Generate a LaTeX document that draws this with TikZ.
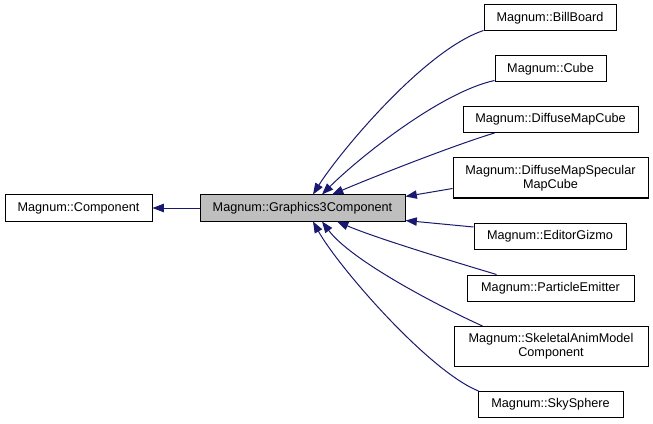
\documentclass[tikz,border=0pt]{standalone}
\usepackage{fontspec}
\setmainfont{Liberation Sans}
\usetikzlibrary{arrows.meta,calc}
\definecolor{navy}{HTML}{191970}
\definecolor{shade}{HTML}{BFBFBF}
\begin{document}
\begin{tikzpicture}[x=.75pt,y=-.75pt,
  box/.style={draw=black,line width=.75pt,inner sep=0pt,minimum width=#1*.75pt,minimum height=19.5pt,align=center,font=\fontsize{9.5}{10.5}\selectfont},
  tall/.style={minimum height=30pt},
  link/.style={navy,line width=.75pt,-{Triangle[length=8.5pt,width=6.3pt]}}]
\useasboundingbox (0,0) rectangle (653,424);
\node[box=147] (comp) at (78.5,208) {Magnum::Component};\node[box=205,fill=shade] (g3) at (302.5,208) {Magnum::Graphics3Component};
\node[box=132] (bb) at (550,18) {Magnum::BillBoard};\node[box=111] (cube) at (550.5,69) {Magnum::Cube};
\node[box=175] (dmc) at (550.5,119.5) {Magnum::DiffuseMapCube};\node[box=195,tall] (dmsmc) at (550.5,178) {Magnum::DiffuseMapSpecular\\MapCube};
\node[box=152] (eg) at (550,236.5) {Magnum::EditorGizmo};\node[box=167] (pe) at (550.5,288) {Magnum::ParticleEmitter};
\node[box=194,tall] (skel) at (551,346.5) {Magnum::SkeletalAnimModel\\Component};\node[box=145] (sky) at (550.5,404.5) {Magnum::SkySphere};
\draw[link] (g3) -- (comp);
\draw[link] ($(bb.south west)+(0,-1)$) .. controls +(-60,20) and +(25,-40) .. ($(g3.north)+(10.5,0)$);
\draw[link] ($(cube.south west)+(0,-2)$) .. controls +(-55,12) and +(35,-35) .. ($(g3.north)+(19.5,0)$);
\draw[link] ($(dmc.south west)+(32,0)$) .. controls +(-40,12) and +(40,-17) .. ($(g3.north)+(29.5,0)$);
\draw[link] ($(dmsmc.south west)+(0,-10)$) -- ($(g3.north east)+(0,2)$);
\draw[link] ($(eg.north west)+(0,4)$) -- ($(g3.south east)+(0,-1)$);
\draw[link] ($(pe.north west)+(30,0)$) .. controls +(-40,-12) and +(40,17) .. ($(g3.south)+(34.5,0)$);
\draw[link] ($(skel.north west)+(29,0)$) .. controls +(-40,-18) and +(30,40) .. ($(g3.south)+(19.5,0)$);
\draw[link] ($(sky.north west)+(1,0)$) .. controls +(-50,-20) and +(25,45) .. ($(g3.south)+(10.5,0)$);
\end{tikzpicture}
\end{document}
